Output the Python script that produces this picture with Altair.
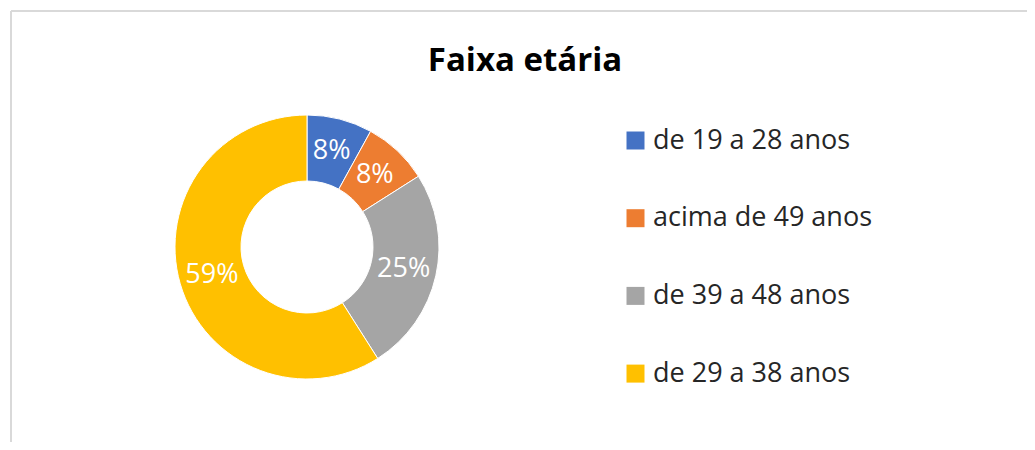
import altair as alt
import pandas as pd

categories = ["de 19 a 28 anos", "acima de 49 anos", "de 39 a 48 anos", "de 29 a 38 anos"]
values = [8, 8, 25, 59]
colors = ["#4472C4", "#ED7D31", "#A5A5A5", "#FFC000"]

df = pd.DataFrame({
    "cat": categories,
    "value": values,
    "order": list(range(len(categories))),
})

W, H = 1016, 431
CX, CY = 296, 236
FONT = "Open Sans"

base = alt.Chart(df).encode(
    theta=alt.Theta("value:Q", stack=True),
    order=alt.Order("order:Q"),
)

arcs = base.mark_arc(innerRadius=66, outerRadius=132, stroke="white", strokeWidth=1).encode(
    x=alt.value(CX),
    y=alt.value(CY),
    color=alt.Color(
        "cat:N",
        scale=alt.Scale(domain=categories, range=colors),
        sort=categories,
        legend=alt.Legend(
            title=None,
            orient="none",
            legendX=611,
            legendY=116,
            symbolType="square",
            symbolSize=324,
            symbolStrokeWidth=0,
            labelFontSize=27,
            labelFont=FONT,
            labelColor="#262626",
            labelOffset=4,
            rowPadding=49.7,
            padding=0,
            labelLimit=400,
        ),
    ),
)

labels = base.mark_text(radius=99, fontSize=27, font=FONT, color="white").encode(
    x=alt.value(CX),
    y=alt.value(CY),
    text=alt.Text("label:N"),
).transform_calculate(label="datum.value + '%'")

border_left = alt.Chart(df).mark_rule(color="#d9d9d9", strokeWidth=2).encode(
    x=alt.value(0), y=alt.value(0), y2=alt.value(H + 20)
)
border_top = alt.Chart(df).mark_rule(color="#d9d9d9", strokeWidth=2).encode(
    x=alt.value(0), x2=alt.value(W + 20), y=alt.value(0)
)

chart = alt.layer(border_left, border_top, arcs, labels).properties(
    width=W,
    height=H,
    autosize=alt.AutoSizeParams(type="none"),
    padding={"left": 3, "top": 3, "right": 0, "bottom": 0},
    title=alt.TitleParams(
        "Faixa etária",
        font=FONT,
        fontSize=33,
        fontWeight="bold",
        color="black",
        anchor="middle",
        baseline="alphabetic",
        dx=6,
        dy=98,
    ),
).configure_view(stroke="transparent")

chart.save("out.html", embed_options={"renderer": "svg", "actions": False})
